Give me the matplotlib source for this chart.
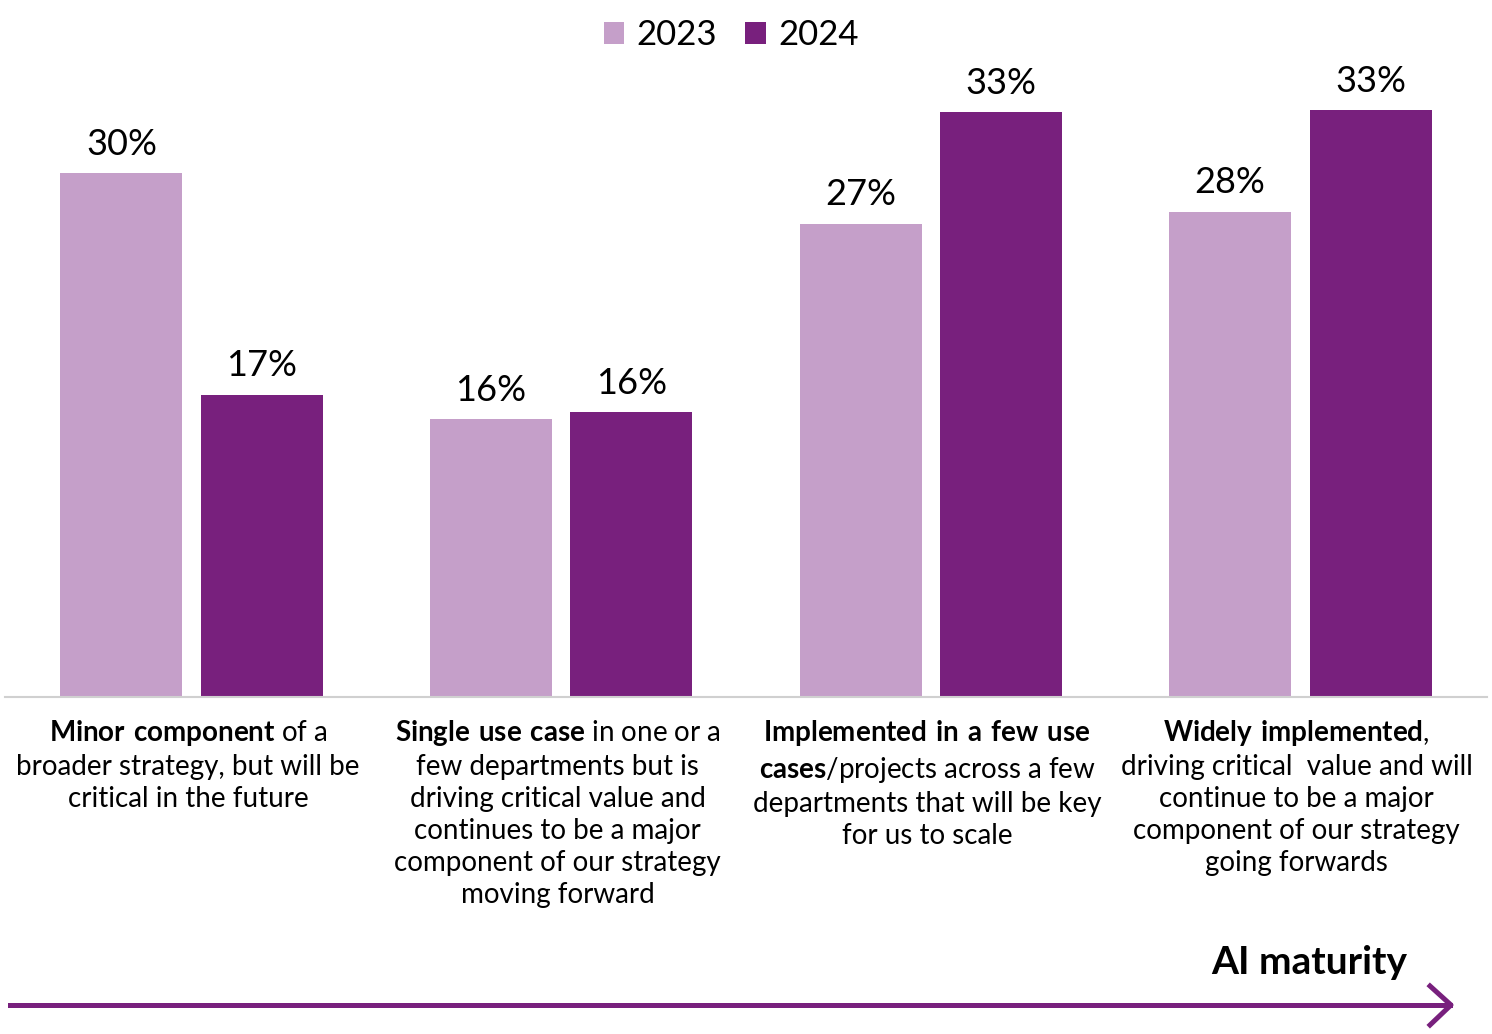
import numpy as np
import matplotlib.pyplot as plt
from matplotlib import rcParams

# styling
rcParams['font.family'] = ['Lato', 'DejaVu Sans']
rcParams['mathtext.fontset'] = 'custom'
rcParams['mathtext.rm'] = 'Lato'
rcParams['mathtext.bf'] = 'Lato:bold'

c_2023 = '#c59fc9'
c_2024 = '#78207d'

# data
categories = [
    r"$\bf{Minor\ component}$ of a" + "\nbroader strategy, but will be\ncritical in the future",
    r"$\bf{Single\ use\ case}$ in one or a" + "\nfew departments but is\ndriving critical value and\ncontinues to be a major\ncomponent of our strategy\nmoving forward",
    r"$\bf{Implemented\ in\ a\ few\ use}$" + "\n" + r"$\bf{cases}$/projects across a few" + "\ndepartments that will be key\nfor us to scale",
    r"$\bf{Widely\ implemented}$," + "\ndriving critical  value and will\ncontinue to be a major\ncomponent of our strategy\ngoing forwards",
]
years = ['2023', '2024']
vals_2023 = [30.0, 15.9, 27.1, 27.8]
vals_2024 = [17.3, 16.3, 33.5, 33.6]
labels_2023 = ['30%', '16%', '27%', '28%']
labels_2024 = ['17%', '16%', '33%', '33%']

fig = plt.figure(figsize=(14.92, 10.34), dpi=100)
fig.set_facecolor('white')
ax = fig.add_axes([5 / 1492, 1 - 697 / 1034, 1482 / 1492, 611 / 1034])

x = np.arange(len(categories))
w = 0.33
off = 0.19
b1 = ax.bar(x - off, vals_2023, w, color=c_2023, label=years[0])
b2 = ax.bar(x + off, vals_2024, w, color=c_2024, label=years[1])

for bars, labs in [(b1, labels_2023), (b2, labels_2024)]:
    for rect, lab in zip(bars, labs):
        ax.annotate(lab, (rect.get_x() + rect.get_width() / 2, rect.get_height()),
                    xytext=(0, 9), textcoords='offset points',
                    ha='center', va='bottom', fontsize=26)

ax.set_xlim(-0.505, 3.505)
ax.set_ylim(0, 35)
ax.set_xticks([])
ax.set_yticks([])
for s in ['top', 'left', 'right']:
    ax.spines[s].set_visible(False)
ax.spines['bottom'].set_color('#d0d0d0')
ax.spines['bottom'].set_linewidth(1.5)

# category text under bars
for i, txt in enumerate(categories):
    ax.text(i - 0.01, -0.035, txt, transform=ax.get_xaxis_transform(),
            ha='center', va='top', fontsize=20, linespacing=1.28,
            multialignment='center')

fig.legend(loc='upper center', bbox_to_anchor=(0.49, 1.012), ncol=2,
           frameon=False, fontsize=25, handlelength=0.6, handleheight=0.6,
           handletextpad=0.35, columnspacing=0.8)

# AI maturity arrow
fig.text(1407 / 1492, 1 - 962 / 1034, 'AI maturity', ha='right', va='center',
         fontsize=28, fontweight='bold')
fig.add_artist(plt.Line2D([10 / 1492, 1450 / 1492], [1 - 1005 / 1034] * 2,
                          color=c_2024, lw=3.6, transform=fig.transFigure))
fig.add_artist(plt.Line2D([1430 / 1492, 1451 / 1492, 1430 / 1492],
                          [1 - 986 / 1034, 1 - 1005 / 1034, 1 - 1025 / 1034],
                          color=c_2024, lw=3.6, transform=fig.transFigure))

plt.savefig('out.png', dpi=100, facecolor='white')
